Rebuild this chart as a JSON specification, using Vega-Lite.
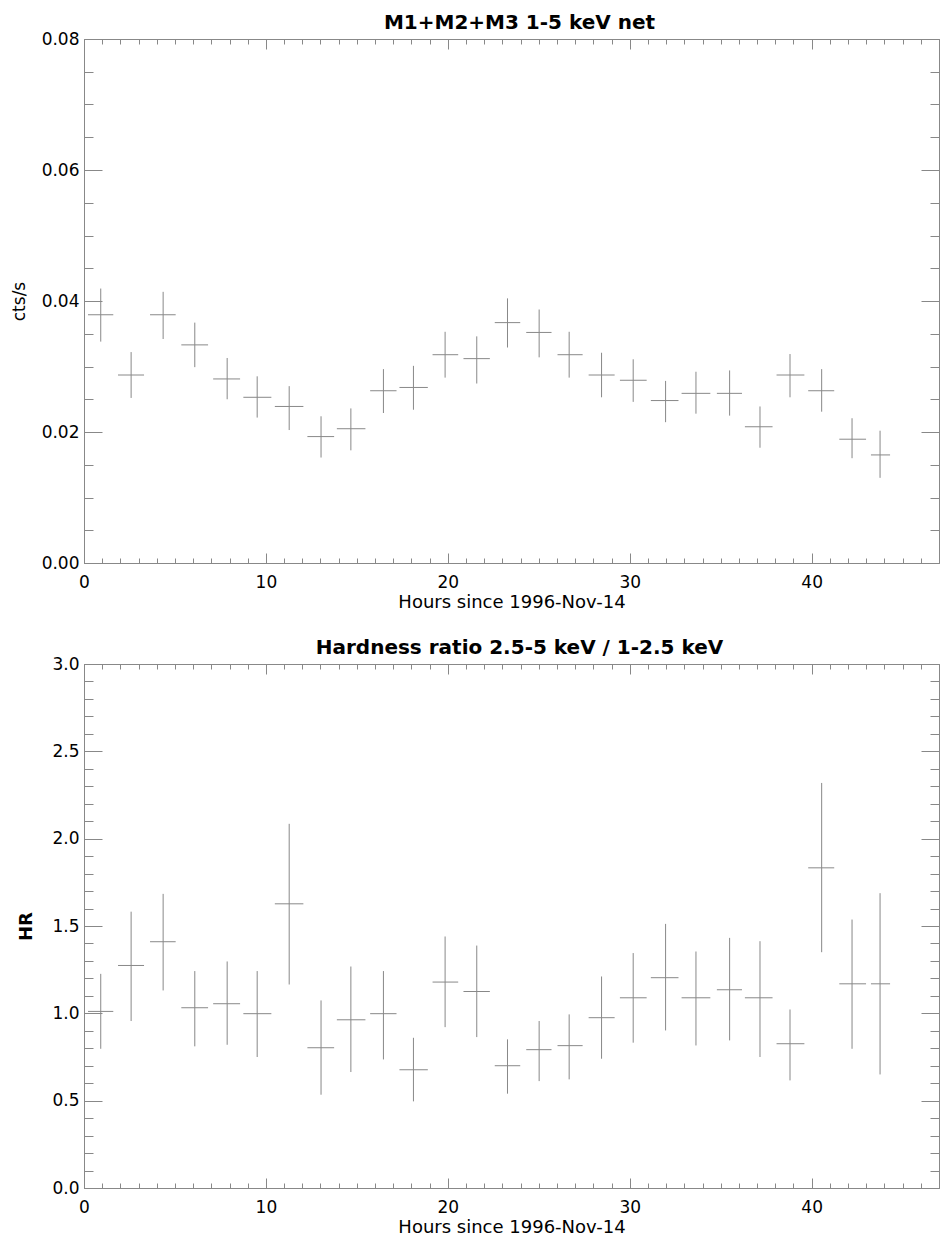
{
  "$schema": "https://vega.github.io/schema/vega-lite/v6.json",
  "background": "white",
  "padding": {"left": 10, "top": 13, "right": 5, "bottom": 2},
  "spacing": 27,
  "config": {
    "view": {"stroke": null},
    "axis": {
      "grid": false, "domainColor": "#888888", "tickColor": "#888888", "domainWidth": 1, "tickWidth": 1,
      "labelColor": "black", "titleColor": "black", "labelFont": "DejaVu Sans", "labelFontSize": 17,
      "titleFont": "DejaVu Sans", "titleFontSize": 17, "titleFontWeight": "normal",
      "labelFlush": false, "labelOverlap": false
    },
    "title": {"font": "DejaVu Sans", "fontSize": 20, "fontWeight": "bold", "color": "black", "anchor": "middle"}
  },
  "datasets": {
    "rate": [
      {"t": 0.92, "tlo": 0.22, "thi": 1.61, "v": 0.0379, "lo": 0.0338, "hi": 0.0419},
      {"t": 2.59, "tlo": 1.87, "thi": 3.30, "v": 0.0287, "lo": 0.0252, "hi": 0.0322},
      {"t": 4.35, "tlo": 3.63, "thi": 5.04, "v": 0.0379, "lo": 0.0342, "hi": 0.0414},
      {"t": 6.09, "tlo": 5.35, "thi": 6.82, "v": 0.0333, "lo": 0.0299, "hi": 0.0367},
      {"t": 7.87, "tlo": 7.10, "thi": 8.58, "v": 0.0281, "lo": 0.0250, "hi": 0.0313},
      {"t": 9.52, "tlo": 8.76, "thi": 10.30, "v": 0.0253, "lo": 0.0222, "hi": 0.0285},
      {"t": 11.28, "tlo": 10.49, "thi": 12.06, "v": 0.0239, "lo": 0.0203, "hi": 0.0270},
      {"t": 13.03, "tlo": 12.28, "thi": 13.75, "v": 0.0193, "lo": 0.0161, "hi": 0.0224},
      {"t": 14.67, "tlo": 13.90, "thi": 15.47, "v": 0.0205, "lo": 0.0172, "hi": 0.0236},
      {"t": 16.46, "tlo": 15.73, "thi": 17.18, "v": 0.0263, "lo": 0.0229, "hi": 0.0296},
      {"t": 18.11, "tlo": 17.34, "thi": 18.90, "v": 0.0268, "lo": 0.0234, "hi": 0.0301},
      {"t": 19.85, "tlo": 19.16, "thi": 20.57, "v": 0.0318, "lo": 0.0283, "hi": 0.0353},
      {"t": 21.59, "tlo": 20.86, "thi": 22.31, "v": 0.0312, "lo": 0.0274, "hi": 0.0346},
      {"t": 23.28, "tlo": 22.58, "thi": 23.98, "v": 0.0367, "lo": 0.0329, "hi": 0.0404},
      {"t": 25.02, "tlo": 24.31, "thi": 25.70, "v": 0.0352, "lo": 0.0314, "hi": 0.0387},
      {"t": 26.67, "tlo": 26.03, "thi": 27.41, "v": 0.0318, "lo": 0.0283, "hi": 0.0353},
      {"t": 28.45, "tlo": 27.74, "thi": 29.17, "v": 0.0287, "lo": 0.0253, "hi": 0.0321},
      {"t": 30.19, "tlo": 29.46, "thi": 30.93, "v": 0.0279, "lo": 0.0246, "hi": 0.0311},
      {"t": 31.97, "tlo": 31.16, "thi": 32.68, "v": 0.0248, "lo": 0.0215, "hi": 0.0278},
      {"t": 33.64, "tlo": 32.85, "thi": 34.43, "v": 0.0259, "lo": 0.0228, "hi": 0.0292},
      {"t": 35.49, "tlo": 34.79, "thi": 36.17, "v": 0.0259, "lo": 0.0225, "hi": 0.0294},
      {"t": 37.16, "tlo": 36.33, "thi": 37.85, "v": 0.0208, "lo": 0.0176, "hi": 0.0239},
      {"t": 38.81, "tlo": 38.07, "thi": 39.60, "v": 0.0287, "lo": 0.0253, "hi": 0.0319},
      {"t": 40.55, "tlo": 39.81, "thi": 41.24, "v": 0.0263, "lo": 0.0231, "hi": 0.0296},
      {"t": 42.22, "tlo": 41.52, "thi": 42.99, "v": 0.0189, "lo": 0.0160, "hi": 0.0221},
      {"t": 43.76, "tlo": 43.26, "thi": 44.31, "v": 0.0165, "lo": 0.0130, "hi": 0.0202}
    ],
    "hr": [
      {"t": 0.92, "tlo": 0.22, "thi": 1.61, "v": 1.011, "lo": 0.797, "hi": 1.226},
      {"t": 2.59, "tlo": 1.87, "thi": 3.30, "v": 1.274, "lo": 0.956, "hi": 1.582},
      {"t": 4.35, "tlo": 3.63, "thi": 5.04, "v": 1.410, "lo": 1.131, "hi": 1.684},
      {"t": 6.09, "tlo": 5.35, "thi": 6.82, "v": 1.032, "lo": 0.811, "hi": 1.242},
      {"t": 7.87, "tlo": 7.10, "thi": 8.58, "v": 1.055, "lo": 0.820, "hi": 1.297},
      {"t": 9.52, "tlo": 8.76, "thi": 10.30, "v": 0.998, "lo": 0.750, "hi": 1.242},
      {"t": 11.28, "tlo": 10.49, "thi": 12.06, "v": 1.627, "lo": 1.165, "hi": 2.085},
      {"t": 13.03, "tlo": 12.28, "thi": 13.75, "v": 0.803, "lo": 0.534, "hi": 1.074},
      {"t": 14.67, "tlo": 13.90, "thi": 15.47, "v": 0.963, "lo": 0.664, "hi": 1.268},
      {"t": 16.46, "tlo": 15.73, "thi": 17.18, "v": 0.998, "lo": 0.736, "hi": 1.242},
      {"t": 18.11, "tlo": 17.34, "thi": 18.90, "v": 0.677, "lo": 0.496, "hi": 0.860},
      {"t": 19.85, "tlo": 19.16, "thi": 20.57, "v": 1.179, "lo": 0.921, "hi": 1.440},
      {"t": 21.59, "tlo": 20.86, "thi": 22.31, "v": 1.125, "lo": 0.864, "hi": 1.388},
      {"t": 23.28, "tlo": 22.58, "thi": 23.98, "v": 0.700, "lo": 0.540, "hi": 0.851},
      {"t": 25.02, "tlo": 24.31, "thi": 25.70, "v": 0.792, "lo": 0.612, "hi": 0.956},
      {"t": 26.67, "tlo": 26.03, "thi": 27.41, "v": 0.815, "lo": 0.622, "hi": 0.994},
      {"t": 28.45, "tlo": 27.74, "thi": 29.17, "v": 0.975, "lo": 0.740, "hi": 1.211},
      {"t": 30.19, "tlo": 29.46, "thi": 30.93, "v": 1.089, "lo": 0.832, "hi": 1.345},
      {"t": 31.97, "tlo": 31.16, "thi": 32.68, "v": 1.204, "lo": 0.902, "hi": 1.512},
      {"t": 33.64, "tlo": 32.85, "thi": 34.43, "v": 1.089, "lo": 0.816, "hi": 1.354},
      {"t": 35.49, "tlo": 34.79, "thi": 36.17, "v": 1.135, "lo": 0.845, "hi": 1.432},
      {"t": 37.16, "tlo": 36.33, "thi": 37.85, "v": 1.089, "lo": 0.750, "hi": 1.413},
      {"t": 38.81, "tlo": 38.07, "thi": 39.60, "v": 0.826, "lo": 0.616, "hi": 1.022},
      {"t": 40.55, "tlo": 39.81, "thi": 41.24, "v": 1.833, "lo": 1.350, "hi": 2.319},
      {"t": 42.22, "tlo": 41.52, "thi": 42.99, "v": 1.169, "lo": 0.797, "hi": 1.537},
      {"t": 43.76, "tlo": 43.26, "thi": 44.31, "v": 1.169, "lo": 0.650, "hi": 1.688}
    ]
  },
  "vconcat": [
    {
      "width": 855, "height": 524,
      "title": {"text": "M1+M2+M3 1-5 keV net", "offset": -3, "dx": 8},
      "data": {"name": "rate"},
      "resolve": {"axis": {"x": "independent", "y": "independent"}},
      "layer": [
        {
          "mark": {"type": "rule", "color": "#888888", "strokeWidth": 1},
          "encoding": {
            "x": {"field": "t", "type": "quantitative", "scale": {"domain": [0, 47], "nice": false, "zero": false},
                  "axis": {"orient": "bottom", "values": [0, 10, 20, 30, 40], "tickSize": -10, "labelPadding": 21, "title": "Hours since 1996-Nov-14", "titleFontSize": 18, "titlePadding": 3}},
            "y": {"field": "lo", "type": "quantitative", "scale": {"domain": [0, 0.08], "nice": false},
                  "axis": {"orient": "left", "values": [0, 0.02, 0.04, 0.06, 0.08], "format": ".2f", "tickSize": -18, "labelPadding": 23, "title": "cts/s", "titlePadding": 12.5}},
            "y2": {"field": "hi"}
          }
        },
        {
          "mark": {"type": "rule", "color": "#888888", "strokeWidth": 1},
          "encoding": {
            "x": {"field": "tlo", "type": "quantitative", "scale": {"domain": [0, 47], "nice": false, "zero": false},
                  "axis": {"orient": "bottom", "values": [0,1,2,3,4,5,6,7,8,9,10,11,12,13,14,15,16,17,18,19,20,21,22,23,24,25,26,27,28,29,30,31,32,33,34,35,36,37,38,39,40,41,42,43,44,45,46,47], "tickSize": -5, "labels": false, "domain": false, "title": null}},
            "x2": {"field": "thi"},
            "y": {"field": "v", "type": "quantitative", "scale": {"domain": [0, 0.08], "nice": false},
                  "axis": {"orient": "left", "values": [0,0.005,0.01,0.015,0.02,0.025,0.03,0.035,0.04,0.045,0.05,0.055,0.06,0.065,0.07,0.075,0.08], "tickSize": -9, "labels": false, "domain": false, "title": null}}
          }
        },
        {
          "mark": {"type": "rule", "color": "#888888", "strokeOpacity": 0},
          "encoding": {
            "x": {"field": "t", "type": "quantitative", "scale": {"domain": [0, 47], "nice": false, "zero": false},
                  "axis": {"orient": "top", "values": [0, 10, 20, 30, 40], "tickSize": -10, "labels": false, "title": null}},
            "y": {"field": "lo", "type": "quantitative", "scale": {"domain": [0, 0.08], "nice": false},
                  "axis": {"orient": "right", "values": [0, 0.02, 0.04, 0.06, 0.08], "tickSize": -18, "labels": false, "title": null}},
            "y2": {"field": "hi"}
          }
        },
        {
          "mark": {"type": "rule", "color": "#888888", "strokeOpacity": 0},
          "encoding": {
            "x": {"field": "tlo", "type": "quantitative", "scale": {"domain": [0, 47], "nice": false, "zero": false},
                  "axis": {"orient": "top", "values": [0,1,2,3,4,5,6,7,8,9,10,11,12,13,14,15,16,17,18,19,20,21,22,23,24,25,26,27,28,29,30,31,32,33,34,35,36,37,38,39,40,41,42,43,44,45,46,47], "tickSize": -5, "labels": false, "domain": false, "title": null}},
            "x2": {"field": "thi"},
            "y": {"field": "v", "type": "quantitative", "scale": {"domain": [0, 0.08], "nice": false},
                  "axis": {"orient": "right", "values": [0,0.005,0.01,0.015,0.02,0.025,0.03,0.035,0.04,0.045,0.05,0.055,0.06,0.065,0.07,0.075,0.08], "tickSize": -9, "labels": false, "domain": false, "title": null}}
          }
        }
      ]
    },
    {
      "width": 855, "height": 524,
      "title": {"text": "Hardness ratio 2.5-5 keV / 1-2.5 keV", "offset": -3, "dx": 8},
      "data": {"name": "hr"},
      "resolve": {"axis": {"x": "independent", "y": "independent"}},
      "layer": [
        {
          "mark": {"type": "rule", "color": "#888888", "strokeWidth": 1},
          "encoding": {
            "x": {"field": "t", "type": "quantitative", "scale": {"domain": [0, 47], "nice": false, "zero": false},
                  "axis": {"orient": "bottom", "values": [0, 10, 20, 30, 40], "tickSize": -10, "labelPadding": 21, "title": "Hours since 1996-Nov-14", "titleFontSize": 18, "titlePadding": 3}},
            "y": {"field": "lo", "type": "quantitative", "scale": {"domain": [0, 3], "nice": false},
                  "axis": {"orient": "left", "values": [0, 0.5, 1, 1.5, 2, 2.5, 3], "format": ".1f", "tickSize": -18, "labelPadding": 23, "title": "HR", "titleFontSize": 18, "titleFontWeight": "bold", "titlePadding": 16}},
            "y2": {"field": "hi"}
          }
        },
        {
          "mark": {"type": "rule", "color": "#888888", "strokeWidth": 1},
          "encoding": {
            "x": {"field": "tlo", "type": "quantitative", "scale": {"domain": [0, 47], "nice": false, "zero": false},
                  "axis": {"orient": "bottom", "values": [0,1,2,3,4,5,6,7,8,9,10,11,12,13,14,15,16,17,18,19,20,21,22,23,24,25,26,27,28,29,30,31,32,33,34,35,36,37,38,39,40,41,42,43,44,45,46,47], "tickSize": -5, "labels": false, "domain": false, "title": null}},
            "x2": {"field": "thi"},
            "y": {"field": "v", "type": "quantitative", "scale": {"domain": [0, 3], "nice": false},
                  "axis": {"orient": "left", "values": [0,0.1,0.2,0.3,0.4,0.5,0.6,0.7,0.8,0.9,1,1.1,1.2,1.3,1.4,1.5,1.6,1.7,1.8,1.9,2,2.1,2.2,2.3,2.4,2.5,2.6,2.7,2.8,2.9,3], "tickSize": -9, "labels": false, "domain": false, "title": null}}
          }
        },
        {
          "mark": {"type": "rule", "color": "#888888", "strokeOpacity": 0},
          "encoding": {
            "x": {"field": "t", "type": "quantitative", "scale": {"domain": [0, 47], "nice": false, "zero": false},
                  "axis": {"orient": "top", "values": [0, 10, 20, 30, 40], "tickSize": -10, "labels": false, "title": null}},
            "y": {"field": "lo", "type": "quantitative", "scale": {"domain": [0, 3], "nice": false},
                  "axis": {"orient": "right", "values": [0, 0.5, 1, 1.5, 2, 2.5, 3], "tickSize": -18, "labels": false, "title": null}},
            "y2": {"field": "hi"}
          }
        },
        {
          "mark": {"type": "rule", "color": "#888888", "strokeOpacity": 0},
          "encoding": {
            "x": {"field": "tlo", "type": "quantitative", "scale": {"domain": [0, 47], "nice": false, "zero": false},
                  "axis": {"orient": "top", "values": [0,1,2,3,4,5,6,7,8,9,10,11,12,13,14,15,16,17,18,19,20,21,22,23,24,25,26,27,28,29,30,31,32,33,34,35,36,37,38,39,40,41,42,43,44,45,46,47], "tickSize": -5, "labels": false, "domain": false, "title": null}},
            "x2": {"field": "thi"},
            "y": {"field": "v", "type": "quantitative", "scale": {"domain": [0, 3], "nice": false},
                  "axis": {"orient": "right", "values": [0,0.1,0.2,0.3,0.4,0.5,0.6,0.7,0.8,0.9,1,1.1,1.2,1.3,1.4,1.5,1.6,1.7,1.8,1.9,2,2.1,2.2,2.3,2.4,2.5,2.6,2.7,2.8,2.9,3], "tickSize": -9, "labels": false, "domain": false, "title": null}}
          }
        }
      ]
    }
  ]
}
